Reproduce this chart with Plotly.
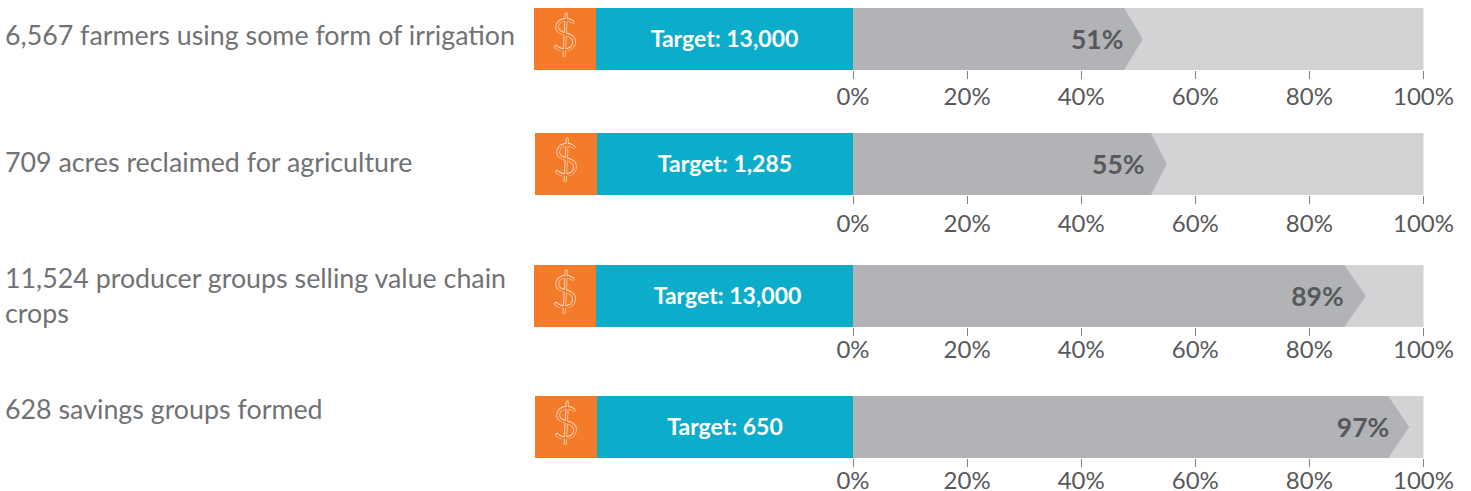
import plotly.graph_objects as go

# Data
labels = ["6,567 farmers using some form of irrigation",
          "709 acres reclaimed for agriculture",
          "11,524 producer groups selling value chain<br>crops",
          "628 savings groups formed"]
targets = ["Target: 13,000", "Target: 1,285", "Target: 13,000", "Target: 650"]
pct_labels = ["51%", "55%", "89%", "97%"]
arrow_tip = [50.8, 55.0, 89.9, 97.5]
arrow_shoulder = [47.5, 52.2, 86.1, 93.8]
pct_text_x = [47.4, 51.1, 86.0, 94.0]
tick_vals = [0, 20, 40, 60, 80, 100]
tick_text = ["0%", "20%", "40%", "60%", "80%", "100%"]

W, H = 1471, 491
X0, X100 = 853.0, 1423.5
SCALE = (X100 - X0) / 100
xr = [-X0 / SCALE, (W - X0) / SCALE]
def px(v): return (v - X0) / SCALE

rows = [(8, 70, 36), (133, 195, 163), (265, 327, 279), (396, 458, 410)]
orange_l = [534, 535, 534, 535]
teal_l = [596, 597, 596, 597]
tick_shift = [-3, -1, -7, -7]
target_dx = [0, 0, 3, 0]
FONT = "Lato"

fig = go.Figure()
for i in range(4):
    n = "" if i == 0 else str(i + 1)
    xa, ya = "x" + n, "y" + n
    top, bot, ly = rows[i]
    o, t = px(orange_l[i]), px(teal_l[i])
    fig.add_trace(go.Bar(x=[100 - t], base=[t], y=[0], width=[1], orientation="h",
                         marker=dict(color="#d1d3d4", line_width=0), xaxis=xa, yaxis=ya))
    fig.add_trace(go.Bar(x=[t - o], base=[o], y=[0], width=[1], orientation="h",
                         marker=dict(color="#f47b2a", line_width=0), xaxis=xa, yaxis=ya))
    fig.add_trace(go.Bar(x=[-t], base=[t], y=[0], width=[1], orientation="h",
                         marker=dict(color="#0cadcb", line_width=0), xaxis=xa, yaxis=ya))
    tip, sh = arrow_tip[i], arrow_shoulder[i]
    fig.add_trace(go.Scatter(x=[0, sh, tip, sh, 0, 0],
                             y=[-.5, -.5, 0, .5, .5, -.5], fill="toself", mode="lines",
                             fillcolor="#b1b3b6", line_width=0, xaxis=xa, yaxis=ya))
    fig.add_trace(go.Scatter(x=[pct_text_x[i]], y=[-0.05], mode="text", text=[pct_labels[i]],
                             textposition="middle left",
                             textfont=dict(family=FONT, size=26.5, color="#58595b", weight=700),
                             xaxis=xa, yaxis=ya))
    fig.add_trace(go.Scatter(x=[t / 2 + target_dx[i] / SCALE], y=[-0.03], mode="text", text=[targets[i]],
                             textposition="middle center",
                             textfont=dict(family=FONT, size=23, color="white", weight=700),
                             xaxis=xa, yaxis=ya))
    fig.add_trace(go.Scatter(x=[(o + t) / 2], y=[0], mode="text", text=["$"],
                             textposition="middle center",
                             textfont=dict(family=FONT, size=46, color="#f47b2a", weight=300,
                                           shadow="0.6px 0 0 #ffe6d6, -0.6px 0 0 #ffe6d6, 0 0.6px 0 #ffe6d6, 0 -0.6px 0 #ffe6d6"),
                             xaxis=xa, yaxis=ya))
    fig.update_layout({
        "xaxis" + n: dict(domain=[0, 1], range=xr, anchor=ya, tickvals=tick_vals, ticktext=tick_text,
                          ticks="outside", ticklen=8, tickwidth=1, tickcolor="#808285",
                          showgrid=False, zeroline=False, showline=False, automargin=False,
                          ticklabelstandoff=tick_shift[i],
                          tickfont=dict(family=FONT, size=24, color="#58595b")),
        "yaxis" + n: dict(domain=[1 - bot / H, 1 - top / H], range=[-.5, .5], anchor=xa,
                          visible=False, fixedrange=True, automargin=False),
    })
    fig.add_annotation(xref="paper", yref="paper", x=3 / W, y=1 - (ly - 19) / H,
                       xanchor="left", yanchor="top", align="left", showarrow=False,
                       text=labels[i], font=dict(family=FONT, size=26.8, color="#717275"))

fig.update_layout(width=W, height=H, margin=dict(l=0, r=0, t=0, b=0), showlegend=False,
                  barmode="overlay", paper_bgcolor="white", plot_bgcolor="white")
fig.write_html("out.html", post_script="document.body.style.margin='0';",
               config={"displayModeBar": False})
